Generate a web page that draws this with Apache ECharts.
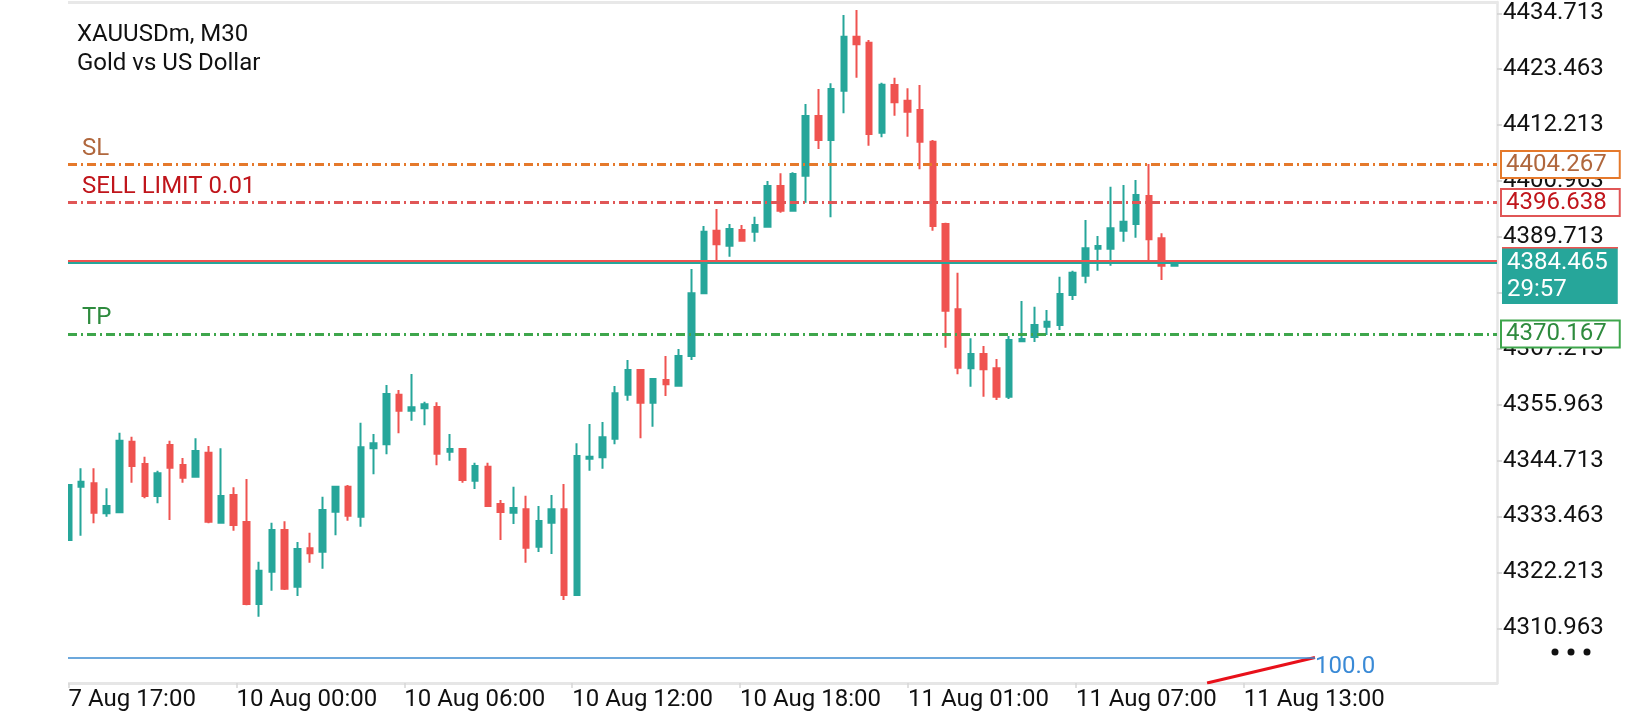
<!DOCTYPE html>
<html>
<head>
<meta charset="utf-8">
<title>XAUUSDm M30</title>
<style>
  html, body { margin: 0; padding: 0; background: #fff; }
  #chart { width: 1640px; height: 720px; }
</style>
<script src="https://cdn.jsdelivr.net/npm/echarts@6/dist/echarts.min.js"></script>
</head>
<body>
<div id="chart"></div>
<script>
// M30 candles (index 0 = leftmost, half hidden)
const opens = [
  4328.73, 4339.46, 4340.14, 4334.11, 4334.31, 4348.52, 4344.03, 4337.59, 4347.85, 4343.83,
  4341.47, 4346.30, 4332.22, 4337.79, 4332.36, 4315.86, 4322.36, 4330.75, 4319.33, 4327.07,
  4326.39, 4334.43, 4339.46, 4333.42, 4347.19, 4347.99, 4357.97, 4354.75, 4355.23, 4355.50,
  4346.50, 4347.05, 4340.67, 4343.49, 4335.98, 4334.23, 4334.91, 4327.39, 4332.22, 4334.91,
  4317.67, 4345.10, 4345.38, 4349.12, 4357.97, 4362.94, 4356.36, 4360.93, 4359.78, 4365.76,
  4378.37, 4390.97, 4387.95, 4391.11, 4390.77, 4391.78, 4399.97, 4394.99, 4402.04, 4414.05,
  4409.22, 4419.14, 4430.00, 4428.80, 4410.69, 4420.29, 4417.13, 4415.26, 4408.88, 4392.32,
  4375.15, 4363.28, 4366.16, 4363.28, 4357.57, 4368.71, 4369.58, 4371.65, 4371.99, 4378.03,
  4381.92, 4387.35, 4387.35, 4390.97, 4392.32, 4397.95, 4389.44, 4383.93
];
const closes = [
  4339.80, 4340.47, 4334.23, 4335.58, 4348.72, 4343.62, 4337.59, 4342.16, 4343.29, 4341.28,
  4346.64, 4332.42, 4337.59, 4331.76, 4315.86, 4322.56, 4330.75, 4318.94, 4326.92, 4326.06,
  4334.77, 4339.46, 4333.62, 4347.39, 4348.20, 4358.11, 4354.75, 4355.44, 4356.04, 4346.10,
  4347.05, 4340.81, 4343.63, 4335.58, 4334.37, 4335.17, 4327.19, 4332.56, 4334.91, 4317.67,
  4345.64, 4345.50, 4349.40, 4358.25, 4362.94, 4356.36, 4361.13, 4360.06, 4365.76, 4378.37,
  4390.77, 4388.23, 4391.31, 4388.96, 4392.12, 4399.97, 4394.99, 4402.38, 4414.05, 4409.22,
  4419.48, 4430.00, 4428.48, 4410.43, 4420.35, 4416.81, 4414.91, 4408.88, 4391.92, 4374.87,
  4363.41, 4366.16, 4363.08, 4357.57, 4368.98, 4369.18, 4372.00, 4372.66, 4378.23, 4382.52,
  4387.43, 4387.89, 4391.45, 4392.78, 4398.15, 4389.24, 4383.93, 4384.465
];
const lows = [
  4328.73, 4329.60, 4332.10, 4333.43, 4334.10, 4340.26, 4337.13, 4336.12, 4332.76, 4340.26,
  4341.28, 4332.10, 4332.10, 4330.61, 4315.60, 4313.30, 4318.54, 4318.68, 4317.46, 4324.17,
  4322.97, 4329.68, 4332.62, 4331.41, 4341.96, 4345.98, 4350.20, 4352.74, 4351.81, 4343.77,
  4344.70, 4340.26, 4339.00, 4335.44, 4328.72, 4331.96, 4324.17, 4326.32, 4325.92, 4316.66,
  4317.67, 4342.68, 4343.08, 4347.99, 4356.76, 4349.20, 4351.53, 4357.71, 4359.78, 4364.95,
  4378.37, 4384.41, 4385.74, 4388.96, 4388.76, 4391.78, 4394.59, 4394.99, 4396.60, 4407.41,
  4393.67, 4414.59, 4421.76, 4408.07, 4409.76, 4414.11, 4409.88, 4403.33, 4390.97, 4367.43,
  4362.08, 4359.58, 4357.57, 4356.91, 4357.11, 4368.71, 4368.57, 4369.98, 4370.99, 4377.03,
  4380.39, 4382.92, 4383.93, 4388.76, 4389.56, 4384.73, 4381.05, 4383.93
];
const highs = [
  4339.80, 4343.16, 4343.16, 4339.14, 4350.33, 4349.52, 4345.50, 4342.68, 4348.72, 4345.24,
  4349.20, 4347.65, 4347.19, 4339.34, 4341.01, 4324.37, 4332.22, 4332.50, 4328.33, 4330.21,
  4337.45, 4339.60, 4339.80, 4352.34, 4350.06, 4359.92, 4358.92, 4362.14, 4356.56, 4356.44,
  4350.06, 4347.05, 4344.29, 4344.29, 4336.78, 4339.46, 4337.65, 4335.58, 4337.79, 4340.00,
  4348.19, 4352.08, 4352.48, 4359.72, 4364.95, 4363.08, 4361.27, 4365.76, 4367.17, 4383.26,
  4391.92, 4395.34, 4392.32, 4392.12, 4393.79, 4400.97, 4402.52, 4402.72, 4416.46, 4419.48,
  4420.63, 4434.37, 4435.38, 4429.34, 4420.75, 4421.76, 4419.62, 4420.29, 4409.22, 4392.58,
  4382.52, 4369.32, 4367.77, 4365.15, 4369.78, 4376.83, 4375.68, 4375.02, 4381.71, 4382.92,
  4393.12, 4389.90, 4399.82, 4400.17, 4401.17, 4404.39, 4390.45, 4384.87
];

const xTickLabels = [
  '7 Aug 17:00', '10 Aug 00:00', '10 Aug 06:00', '10 Aug 12:00',
  '10 Aug 18:00', '11 Aug 01:00', '11 Aug 07:00', '11 Aug 13:00'
];
const yTicks = [
  4310.963, 4322.213, 4333.463, 4344.713, 4355.963, 4367.213,
  4378.463, 4389.713, 4400.963, 4412.213, 4423.463, 4434.713
];

// order levels
const levelNames = ['SL', 'SELL LIMIT 0.01', 'TP'];
const levelPrices = [4404.267, 4396.638, 4370.167];
const lastPrice = 4384.465;
const askPrice = 4384.95;
const barTimer = '29:57';

// fibonacci object at the bottom
const fibLevelLabel = '100.0';
const fibLevelPrice = 4305.1;
const fibTrendIndex = [89.58, 98.07];
const fibTrendPrice = [4299.97, 4305.1];

// view window
const xMin = -0.04, xMax = 112.39;
const yMin = 4299.96, yMax = 4436.99;
const tickStep = 13.21;

const UP = '#26a69a';
const DOWN = '#ef5350';
const FONT = 'Roboto, sans-serif';
const GRID_LEFT = 68;
const levelLineColors = ['#e5792b', '#e05656', '#3ea64c'];
const levelTextColors = ['#b0673d', '#c0151b', '#2e8b3e'];
const dashDot = [9, 4, 2, 4];

function buildMarkLines() {
    const data = [];
    levelPrices.forEach((p, k) => {
        // the line with its name at the left
        data.push({
            yAxis: p,
            lineStyle: { color: levelLineColors[k], type: dashDot, width: 2.8 },
            label: {
                show: true,
                position: 'insideStartTop',
                distance: [14, 4],
                formatter: levelNames[k],
                color: levelTextColors[k],
                fontSize: 24,
                fontFamily: FONT
            }
        });
        // price box on the axis
        data.push({
            yAxis: p,
            lineStyle: { color: 'rgba(0,0,0,0)', width: 1 },
            label: {
                show: true,
                position: 'end',
                distance: 5,
                formatter: p.toFixed(3),
                color: levelTextColors[k],
                fontSize: 24,
                fontFamily: FONT,
                lineHeight: 23,
                backgroundColor: '#fff',
                borderColor: levelLineColors[k],
                borderWidth: 2,
                padding: [1, 12, 1, 4]
            }
        });
    });
    data.push({ yAxis: askPrice, lineStyle: { color: DOWN, type: 'solid', width: 2 }, label: { show: false } });
    data.push({ yAxis: lastPrice, lineStyle: { color: UP, type: 'solid', width: 2 }, label: { show: false } });

    // empty first line pushes the level text just below the line
    const fibLabel = {
        show: true,
        position: 'end',
        distance: 0,
        formatter: ' \n' + fibLevelLabel,
        color: '#3a8ad6',
        fontSize: 24,
        fontFamily: FONT,
        lineHeight: 19
    };
    data.push([
        { coord: [xMin, fibLevelPrice], lineStyle: { color: '#3b8bd0', type: 'solid', width: 1.5 }, label: fibLabel },
        { coord: [fibTrendIndex[1], fibLevelPrice], lineStyle: { color: '#3b8bd0', type: 'solid', width: 1.5 }, label: fibLabel }
    ]);
    return data;
}

function initChart() {
    const chart = echarts.init(document.getElementById('chart'), null, { renderer: 'canvas' });
    const candles = opens.map((o, i) => [i, o, closes[i], lows[i], highs[i]]);

    const option = {
        animation: false,
        backgroundColor: '#fff',
        title: {
            text: 'XAUUSDm, M30',
            subtext: 'Gold vs US Dollar',
            left: 77,
            top: 21,
            padding: 0,
            itemGap: 1,
            textStyle: { fontSize: 24, fontWeight: 'normal', color: '#111', fontFamily: FONT, lineHeight: 28 },
            subtextStyle: { fontSize: 24, color: '#111', fontFamily: FONT, lineHeight: 28 }
        },
        grid: { left: GRID_LEFT, right: 143, top: 2, bottom: 37, outerBoundsMode: 'none' },
        xAxis: [{
            type: 'value',
            min: xMin,
            max: xMax,
            position: 'bottom',
            axisLine: { show: true, onZero: false, lineStyle: { color: '#e6e6e6', width: 3 } },
            axisTick: {
                show: true,
                length: 5,
                lineStyle: { color: '#d6d6d6', width: 1.5 },
                customValues: xTickLabels.map((_, k) => k * tickStep)
            },
            axisLabel: {
                show: true,
                customValues: xTickLabels.map((_, k) => k * tickStep),
                formatter: v => xTickLabels[Math.round(v / tickStep)] || '',
                align: 'left',
                margin: 5,
                color: '#111',
                fontSize: 24,
                lineHeight: 24,
                fontFamily: FONT
            },
            splitLine: { show: false }
        }, {
            type: 'value',
            min: xMin,
            max: xMax,
            position: 'top',
            axisLine: { show: true, onZero: false, lineStyle: { color: '#e8e8e8', width: 3 } },
            axisTick: { show: false },
            axisLabel: { show: false },
            splitLine: { show: false }
        }],
        yAxis: {
            type: 'value',
            position: 'right',
            min: yMin,
            max: yMax,
            axisLine: { show: true, onZero: false, lineStyle: { color: '#e6e6e6', width: 2.5 } },
            axisTick: {
                show: true,
                length: 5,
                lineStyle: { color: '#d0d0d0', width: 1.5 },
                customValues: yTicks
            },
            axisLabel: {
                show: true,
                customValues: yTicks,
                formatter: v => v.toFixed(3),
                margin: 6,
                color: '#111',
                fontSize: 24,
                fontFamily: FONT
            },
            splitLine: { show: false }
        },
        series: [{
            type: 'candlestick',
            name: 'XAUUSDm',
            xAxisIndex: 0,
            data: candles,
            encode: { x: 0, y: [1, 2, 3, 4] },
            barWidth: 6,
            clip: true,
            silent: true,
            itemStyle: {
                color: UP,
                color0: DOWN,
                borderColor: UP,
                borderColor0: DOWN,
                borderWidth: 2
            },
            markLine: {
                silent: true,
                symbol: ['none', 'none'],
                animation: false,
                data: buildMarkLines()
            }
        }, {
            type: 'line',
            name: 'fibo',
            xAxisIndex: 0,
            data: fibTrendIndex.map((x, i) => [x, fibTrendPrice[i]]),
            showSymbol: false,
            symbol: 'none',
            silent: true,
            clip: true,
            lineStyle: { color: '#e8101a', width: 3 },
            z: 3
        }]
    };
    chart.setOption(option);

    // current price box (two lines: bid + bar timer), placed via the y scale
    const yPix = chart.convertToPixel({ yAxisIndex: 0 }, lastPrice);
    const xRight = chart.convertToPixel({ xAxisIndex: 0 }, xMax);
    chart.setOption({
        graphic: [{
            // candlestick only culls whole candles, so hide the part left of the plot
            type: 'rect',
            x: 0,
            y: 0,
            z: 50,
            shape: { width: GRID_LEFT, height: 690 },
            style: { fill: '#fff' }
        }, {
            type: 'text',
            x: xRight + 5,
            y: yPix - 15,
            z: 100,
            style: {
                text: lastPrice.toFixed(3) + '\n' + barTimer,
                fill: '#fff',
                fontSize: 24,
                fontFamily: FONT,
                lineHeight: 27,
                align: 'left',
                verticalAlign: 'top',
                backgroundColor: UP,
                padding: [1, 10, 1, 5]
            }
        }, {
            type: 'rect',
            x: xRight + 5,
            y: yPix - 16,
            z: 101,
            shape: { width: 116, height: 1.5 },
            style: { fill: DOWN }
        }, {
            type: 'circle', x: 1555, y: 652, z: 100,
            shape: { r: 3.5 }, style: { fill: '#111' }
        }, {
            type: 'circle', x: 1571, y: 652, z: 100,
            shape: { r: 3.5 }, style: { fill: '#111' }
        }, {
            type: 'circle', x: 1587, y: 652, z: 100,
            shape: { r: 3.5 }, style: { fill: '#111' }
        }]
    });
    return chart;
}

document.addEventListener('DOMContentLoaded', function () {
    const chart = initChart();
    window.addEventListener('resize', function () {
        chart.resize();
    });
});
</script>
</body>
</html>
